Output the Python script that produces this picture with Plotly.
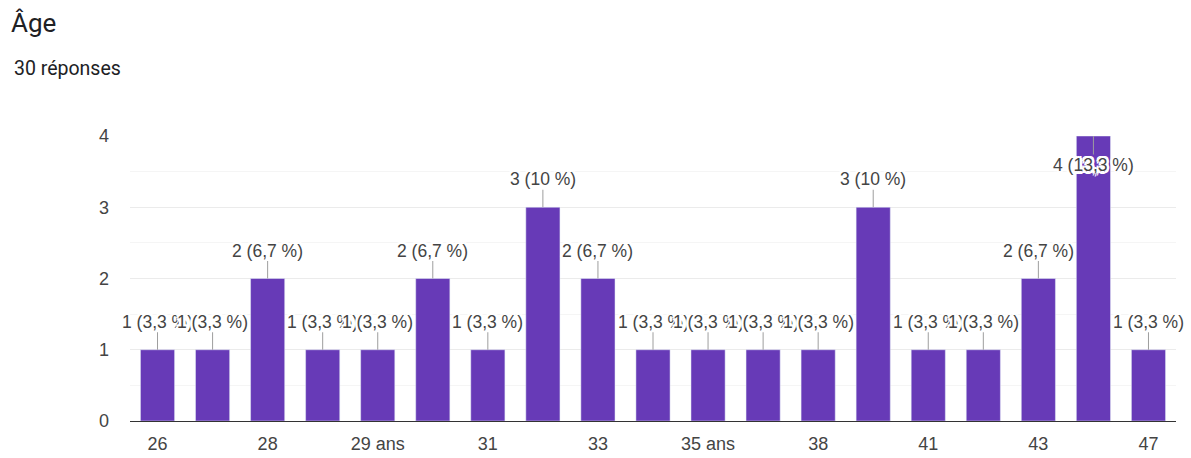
import plotly.graph_objects as go

# Survey answers to the "Âge" question
ages = ["26", "27", "28", "29", "29 ans", "30", "31", "32", "33", "34",
        "35 ans", "36", "38", "40", "41", "42", "43", "45", "47"]
counts = [1, 1, 2, 1, 1, 2, 1, 3, 2, 1, 1, 1, 1, 3, 1, 1, 2, 4, 1]
shown_ticks = ["26", "28", "29 ans", "31", "33", "35 ans", "38", "41", "43", "47"]

total = sum(counts)
y_max = 4

BAR = "#673ab7"
TXT = "#444444"
CHART_FONT = "Liberation Sans, Arial, sans-serif"
HALO = ("2.5px 0 0 white, -2.5px 0 0 white, 0 2.5px 0 white, 0 -2.5px 0 white, "
        "2px 2px 0 white, -2px -2px 0 white, 2px -2px 0 white, "
        "-2px 2px 0 white, 1px 0 0 white, -1px 0 0 white")


def pct_label(n):
    p = round(100 * n / total, 1)
    s = f"{p:.1f}".replace(".", ",")
    if s.endswith(",0"):
        s = s[:-2]
    return f"{n} ({s} %)"


fig = go.Figure(
    go.Bar(x=ages, y=counts, marker_color=BAR, width=0.62, hoverinfo="skip")
)

annotations = []
for i, n in enumerate(counts):
    below = n >= y_max
    annotations.append(dict(
        x=i, y=n, xref="x", yref="y",
        text=pct_label(n),
        showarrow=True, arrowhead=0, arrowwidth=1, arrowcolor="#9e9e9e",
        ax=0, ay=29 if below else -28, standoff=0, startstandoff=0,
        font=dict(family=CHART_FONT, size=17.5, color=TXT, shadow=HALO),
        borderpad=0,
    ))

# response count under the title
annotations.append(dict(
    xref="paper", yref="paper", x=(12 - 130) / 1046, y=(421 - 69) / 285,
    xanchor="left", yanchor="middle", showarrow=False,
    text="30 réponses",
    font=dict(family="Roboto, sans-serif", size=19.5, color="#202124"),
))

fig.update_layout(
    width=1191, height=458, autosize=False,
    margin=dict(l=130, r=15, t=136, b=37),
    paper_bgcolor="white", plot_bgcolor="white",
    showlegend=False,
    title=dict(
        text="Âge", xref="container", yref="container",
        x=11 / 1191, y=1 - 23 / 458, xanchor="left", yanchor="middle",
        font=dict(family="Roboto, sans-serif", size=26, color="#202124"),
        automargin=False,
    ),
    annotations=annotations,
    bargap=0.38,
)

fig.update_xaxes(
    type="category", range=[-0.5, len(ages) - 0.5],
    tickmode="array", tickvals=shown_ticks, ticktext=shown_ticks,
    showgrid=False, showline=True, linecolor="#333333", linewidth=1,
    ticks="", tickfont=dict(family=CHART_FONT, size=18, color=TXT),
    ticklabelstandoff=6, automargin=False,
)
fig.update_yaxes(
    range=[0, y_max], dtick=1, tick0=0,
    showgrid=True, gridcolor="#ebebeb", gridwidth=1,
    minor=dict(dtick=0.5, showgrid=True, gridcolor="#f5f5f5"),
    zeroline=False, ticks="",
    tickfont=dict(family=CHART_FONT, size=18, color=TXT),
    ticklabelstandoff=20, automargin=False,
)

fig.write_html("out.html")
